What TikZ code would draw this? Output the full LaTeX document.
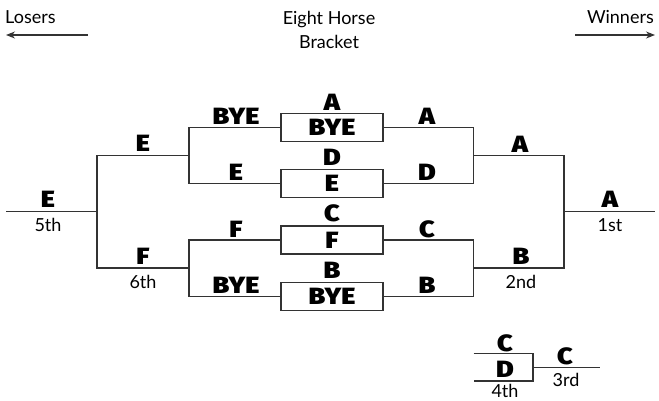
\documentclass[tikz,border=0pt]{standalone}
\usepackage{fontspec}
\setmainfont{Lato}
\newfontfamily\heavy[FakeStretch=1.15]{Fira Sans Black}
\usetikzlibrary{arrows.meta}
\begin{document}
\begin{tikzpicture}[x=1pt,y=-1pt,
  line/.style={draw=black!80, line width=1.1pt},
  boxn/.style={draw=black!80, line width=1.1pt, minimum width=102pt, minimum height=28pt, inner sep=0pt, font=\heavy\fontsize{23.5}{23.5}\selectfont},
  lab/.style={inner sep=0pt, font=\heavy\fontsize{23.5}{23.5}\selectfont},
  txt/.style={inner sep=0pt, font=\fontsize{18}{24}\selectfont},
  arr/.style={draw=black!80, line width=1.1pt, -{Stealth[length=9pt,width=7pt]}}]
\useasboundingbox (0,0) rectangle (659,400);
% header
\node[txt, anchor=west] (los) at (5,17) {Losers};
\node[txt, anchor=east] (win) at (654,17) {Winners};
\node[txt, align=center] (title) at (329,30) {Eight Horse\\Bracket};
\coordinate (la0) at (88,35);
\coordinate (la1) at (6,35);
\coordinate (ra0) at (575,35);
\coordinate (ra1) at (655,35);
\draw[arr] (la0) -- (la1);
\draw[arr] (ra0) -- (ra1);
% boxes
\node[boxn] (b1) at (332,127.5) {BYE};
\node[boxn] (b2) at (332,183.5) {E};
\node[boxn] (b3) at (332,240) {F};
\node[boxn] (b4) at (332,296.5) {BYE};
% junctions
\coordinate (Lm1) at (189,155.5);
\coordinate (Lm2) at (189,268);
\coordinate (O) at (97,211.5);
\coordinate (Lend) at (6,211.5);
\coordinate (Rm1) at (473.5,155.5);
\coordinate (Rm2) at (473.5,268);
\coordinate (RO) at (564,211.5);
\coordinate (Rend) at (655,211.5);
\draw[line] (b1.west) -| (Lm1) |- (b2.west);
\draw[line] (b3.west) -| (Lm2) |- (b4.west);
\draw[line] (b1.east) -| (Rm1) |- (b2.east);
\draw[line] (b3.east) -| (Rm2) |- (b4.east);
\draw[line] (Lm1) -| (O) |- (Lm2);
\draw[line] (O) -- (Lend);
\draw[line] (Rm1) -| (RO) |- (Rm2);
\draw[line] (RO) -- (Rend);
% small bracket
\coordinate (s1) at (473.5,353.5);
\coordinate (s2) at (473.5,381);
\coordinate (sm) at (533,367.5);
\coordinate (se) at (600,367.5);
\draw[line] (s1) -| (sm) |- (s2);
\draw[line] (sm) -- (se);
% labels group 1
\node[lab] (a1) at (332,102) {A};
\node[lab] (y1) at (236,116) {BYE};
\node[lab] (a2) at (427,116) {A};
\node[lab] (d1) at (332,157) {D};
\node[lab] (e1) at (236,172) {E};
\node[lab] (d2) at (427,172) {D};
% group 2
\node[lab] (c1) at (332,213) {C};
\node[lab] (f1) at (236,229) {F};
\node[lab] (c2) at (427,229) {C};
\node[lab] (bb1) at (332,270) {B};
\node[lab] (y2) at (236,285) {BYE};
\node[lab] (bb2) at (427,285) {B};
% outer
\node[lab] (e2) at (143,143.5) {E};
\node[lab] (f2) at (143,256) {F};
\node[txt] (sixth) at (143,282) {6th};
\node[lab] (e3) at (48,199) {E};
\node[txt] (fifth) at (48,225) {5th};
\node[lab] (a3) at (520,144.5) {A};
\node[lab] (bb3) at (521,256.5) {B};
\node[txt] (second) at (521,282) {2nd};
\node[lab] (a4) at (610,199) {A};
\node[txt] (first) at (610,225) {1st};
% small bracket labels
\node[lab] (c3) at (505,343) {C};
\node[lab] (d3) at (505,369.5) {D};
\node[txt] (fourth) at (505,390.5) {4th};
\node[lab] (c4) at (565,356.5) {C};
\node[txt] (third) at (566,380) {3rd};
\end{tikzpicture}
\end{document}
